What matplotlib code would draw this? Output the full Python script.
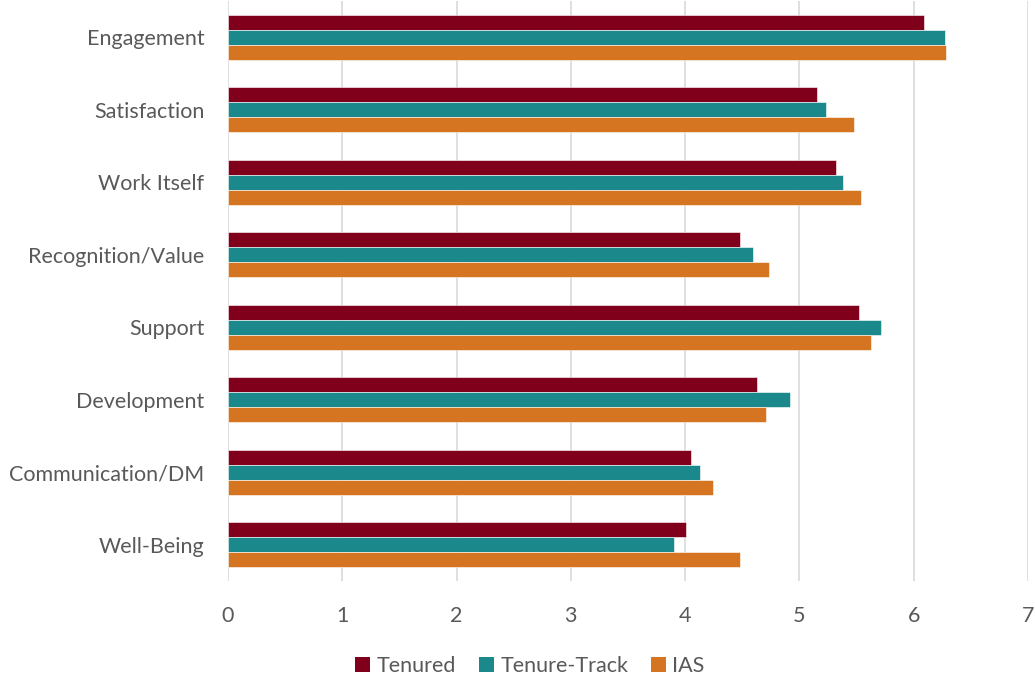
import numpy as np
import matplotlib
matplotlib.use("Agg")
import matplotlib.pyplot as plt
from matplotlib.patches import Patch

plt.rcParams['font.family'] = ['Lato', 'DejaVu Sans']

categories = ["Engagement", "Satisfaction", "Work Itself", "Recognition/Value",
              "Support", "Development", "Communication/DM", "Well-Being"]
tenured = [6.09, 5.15, 5.32, 4.48, 5.52, 4.63, 4.05, 4.01]
tenure_track = [6.27, 5.23, 5.38, 4.59, 5.71, 4.92, 4.13, 3.90]
ias = [6.28, 5.48, 5.54, 4.73, 5.63, 4.71, 4.24, 4.48]

series = ["Tenured", "Tenure-Track", "IAS"]
colors = ["#80001B", "#1B898B", "#D57521"]

fig = plt.figure(figsize=(10.35, 6.78), dpi=100)
ax = fig.add_axes([228 / 1035, 1 - 581 / 678, 800 / 1035, 580 / 678])

y = np.arange(len(categories))
h = 0.207
for i, (vals, c) in enumerate(zip([tenured, tenure_track, ias], colors)):
    ax.barh(y + (i - 1) * h, vals, height=h, color=c,
            edgecolor="white", linewidth=0.4, zorder=3)

ax.set_ylim(len(categories) - 0.5, -0.5)
ax.set_xlim(0, 7)
ax.set_xticks(range(8))
ax.set_yticks(y)
ax.set_yticklabels(categories)
ax.tick_params(axis="both", length=0, labelsize=15.5, colors="#595959")
ax.tick_params(axis="y", pad=17)
ax.tick_params(axis="x", pad=18)
ax.grid(axis="x", color="#D9D9D9", linewidth=1.2, zorder=0)
for s in ax.spines.values():
    s.set_visible(False)

handles = [Patch(facecolor=c, label=s) for s, c in zip(series, colors)]
fig.legend(handles=handles, loc="center", bbox_to_anchor=(0.512, 12 / 678),
           ncol=3, frameon=False, fontsize=15.5, handlelength=0.7,
           handleheight=0.7, handletextpad=0.3, columnspacing=1.05,
           labelcolor="#595959")

fig.savefig("out.png", dpi=100)
